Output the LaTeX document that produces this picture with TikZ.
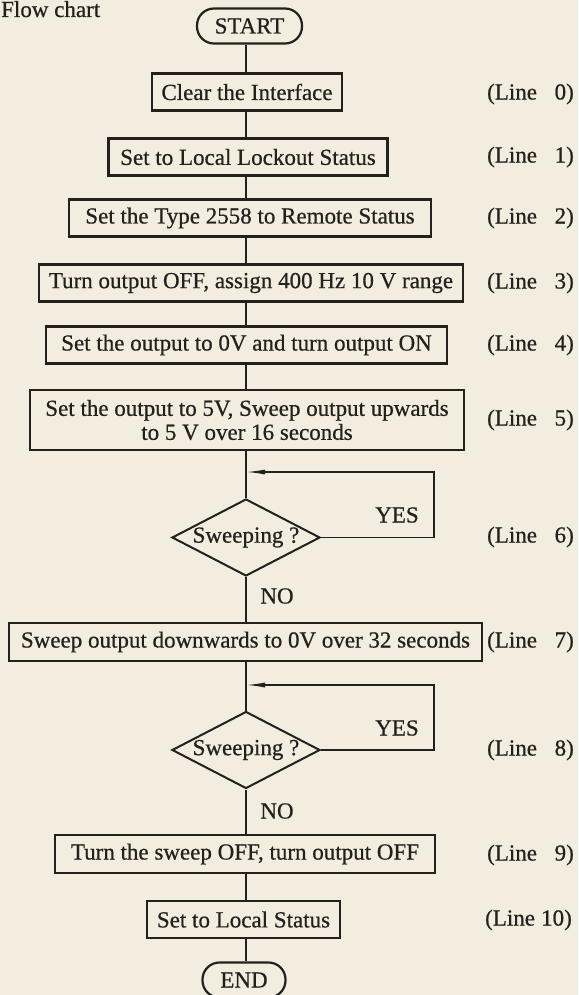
\documentclass[tikz,border=0pt]{standalone}
\usepackage{fontspec}
\setmainfont{Liberation Serif}[FakeBold=0.6]
\usetikzlibrary{shapes.geometric,arrows.meta}
\definecolor{paper}{RGB}{243,237,224}
\definecolor{ink}{RGB}{35,33,30}
\begin{document}
\begin{tikzpicture}[x=1pt,y=-1pt,
  every node/.style={text=ink, font=\fontsize{23}{24}\selectfont},
  box/.style={draw=ink, line width=2.6pt, rectangle, minimum height=37pt, inner sep=2pt},
  term/.style={draw=ink, line width=2.2pt, rectangle, rounded corners=17pt, minimum height=35pt, inner sep=2pt},
  dec/.style={draw=ink, line width=2pt, diamond, aspect=1.9, minimum width=148pt, minimum height=77pt, inner sep=0pt},
  conn/.style={draw=ink, line width=1.4pt},
  back/.style={conn, -{Latex[length=19pt,width=5pt]}},
  lbl/.style={anchor=east, inner sep=0pt}]
\fill[paper] (0,0) rectangle (578,995);
\useasboundingbox (0,0) rectangle (578,995);
\coordinate (l) at (246,0);
\coordinate (r) at (434,0);

\node[anchor=base west, inner sep=0pt] (title) at (1,17) {Flow chart};

\node[term, minimum width=105pt] (start) at (249.5,26) {START};
\node[box, minimum width=190pt] (n0) at (247,92) {Clear the Interface};
\node[box, minimum width=279pt] (n1) at (248,157) {Set to Local Lockout Status};
\node[box, minimum width=362pt] (n2) at (250,218) {Set the Type 2558 to Remote Status};
\node[box, minimum width=424pt] (n3) at (251,283) {Turn output OFF, assign 400 Hz 10 V range};
\node[box, minimum width=401pt] (n4) at (246.5,345) {Set the output to 0V and turn output ON};
\node[box, minimum width=434pt, minimum height=60pt, align=center] (n5) at (247,420) {Set the output to 5V, Sweep output upwards\\to 5 V over 16 seconds};
\node[dec] (d6) at (246,537.5) {Sweeping ?};
\node[box, minimum width=473pt, minimum height=38pt] (n7) at (245.5,642) {Sweep output downwards to 0V over 32 seconds};
\node[dec] (d8) at (246,750) {Sweeping ?};
\node[box, minimum width=380pt, minimum height=38pt] (n9) at (245,854) {Turn the sweep OFF, turn output OFF};
\node[box, minimum width=193pt] (n10) at (243.5,919.5) {Set to Local Status};
\node[term, minimum width=83pt] (end) at (244,980) {END};

\coordinate (j6) at (246,472);
\coordinate (j8) at (246,685);

\draw[conn] (start.south -| l) -- (n0.north -| l);
\draw[conn] (n0.south -| l) -- (n1.north -| l);
\draw[conn] (n1.south -| l) -- (n2.north -| l);
\draw[conn] (n2.south -| l) -- (n3.north -| l);
\draw[conn] (n3.south -| l) -- (n4.north -| l);
\draw[conn] (n4.south -| l) -- (n5.north -| l);
\draw[conn] (n5.south -| l) -- (d6.north);
\draw[back] (d6.east) -- (d6.east -| r) -- (j6 -| r) -- (j6);
\draw[conn] (d6.south) -- (n7.north -| l);
\draw[conn] (n7.south -| l) -- (d8.north);
\draw[back] (d8.east) -- (d8.east -| r) -- (j8 -| r) -- (j8);
\draw[conn] (d8.south) -- (n9.north -| l);
\draw[conn] (n9.south -| l) -- (n10.north -| l);
\draw[conn] (n10.south -| l) -- (end.north -| l);

\node (yes6) at (397,515) {YES};
\node (no6) at (277,596) {NO};
\node (yes8) at (397,728) {YES};
\node (no8) at (277,811) {NO};

\node[lbl] (L0) at (574,94) {(Line\makebox[1.6em][r]{0)}};
\node[lbl] (L1) at (574,157) {(Line\makebox[1.6em][r]{1)}};
\node[lbl] (L2) at (574,218) {(Line\makebox[1.6em][r]{2)}};
\node[lbl] (L3) at (574,283) {(Line\makebox[1.6em][r]{3)}};
\node[lbl] (L4) at (574,345) {(Line\makebox[1.6em][r]{4)}};
\node[lbl] (L5) at (574,420) {(Line\makebox[1.6em][r]{5)}};
\node[lbl] (L6) at (574,537) {(Line\makebox[1.6em][r]{6)}};
\node[lbl] (L7) at (574,642) {(Line\makebox[1.6em][r]{7)}};
\node[lbl] (L8) at (574,750) {(Line\makebox[1.6em][r]{8)}};
\node[lbl] (L9) at (574,855) {(Line\makebox[1.6em][r]{9)}};
\node[lbl] (L10) at (572,920) {(Line\makebox[1.6em][r]{10)}};
\end{tikzpicture}
\end{document}
